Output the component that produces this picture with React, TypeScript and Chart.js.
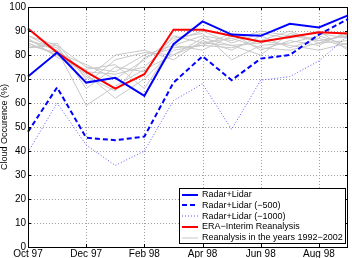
import React, { useEffect, useRef } from "react";
import { Chart, registerables } from "chart.js";

Chart.register(...registerables);

const months = ["Oct 97", "Nov 97", "Dec 97", "Jan 98", "Feb 98", "Mar 98", "Apr 98", "May 98", "Jun 98", "Jul 98", "Aug 98", "Sep 98"];
const yTicks = [0, 10, 20, 30, 40, 50, 60, 70, 80, 90, 100];

const radarLidar = [71, 81, 68.5, 70.5, 63, 84.5, 94, 88.5, 88, 93, 91.5, 96.5];
const radarLidar500 = [48, 66.5, 45.5, 44.5, 46, 68.5, 79.5, 69.5, 78.5, 80, 88.5, 95];
const radarLidar1000 = [39.5, 60, 42.5, 34, 40, 61, 68, 49, 69.5, 71, 77.5, 88];
const eraInterim = [91, 81, 73, 66, 72, 90.5, 90.5, 88, 85.5, 87.5, 89.5, 89];

const reanalysisYears = [
  [88, 84, 75, 73, 80, 84, 88, 86, 90, 88, 86, 88],
  [86, 82, 59, 67, 74, 80, 87, 84, 85, 88, 89, 87],
  [85, 80, 72, 62, 70, 82, 84, 89, 82, 86, 84, 90],
  [83, 85, 70, 80, 82, 78, 86, 82, 88, 83, 87, 83],
  [87, 79, 74, 76, 66, 84, 82, 88, 86, 90, 85, 86],
  [84, 81, 76, 70, 78, 87, 89, 78, 84, 85, 88, 84],
  [86, 83, 68, 78, 81, 80, 85, 87, 83, 82, 85, 89],
  [85, 80, 73, 72, 75, 86, 90, 85, 89, 87, 90, 82],
  [88, 82, 71, 65, 79, 83, 84, 83, 86, 84, 82, 85],
  [83, 84, 66, 75, 73, 88, 85, 84, 80, 89, 86, 88],
];

const legendLabels = [
  "Radar+Lidar",
  "Radar+Lidar (\u2212500)",
  "Radar+Lidar (\u22121000)",
  "ERA\u2212Interim Reanalysis",
  "Reanalysis in the years 1992\u22122002",
];

const FONT = "'Liberation Sans', Arial, Helvetica, sans-serif";
const BLUE = "#0000ff";
const RED = "#ff0000";
const GRAY = "#c8c8c8";
const DOT_BLUE = "#5a5aff";

const legendStyles = [
  { color: BLUE, width: 2, dash: [] as number[] },
  { color: BLUE, width: 2, dash: [5, 3] },
  { color: DOT_BLUE, width: 1, dash: [1, 2] },
  { color: RED, width: 2, dash: [] as number[] },
  { color: GRAY, width: 1, dash: [] as number[] },
];

const gridPlugin = {
  id: "mgrid",
  beforeDatasetsDraw(chart: any) {
    const { ctx, chartArea: a, scales } = chart;
    const xs = scales.x;
    const ys = scales.y;
    ctx.save();
    ctx.strokeStyle = "#a0a0a0";
    ctx.lineWidth = 1;
    ctx.setLineDash([1, 2]);
    ctx.beginPath();
    for (let i = 2; i < months.length; i += 2) {
      const px = Math.round(xs.getPixelForValue(i)) + 0.5;
      ctx.moveTo(px, a.top);
      ctx.lineTo(px, a.bottom);
    }
    for (const v of yTicks) {
      if (v === 0 || v === 100) continue;
      const py = Math.round(ys.getPixelForValue(v)) + 0.5;
      ctx.moveTo(a.left, py);
      ctx.lineTo(a.right, py);
    }
    ctx.stroke();
    ctx.restore();
  },
};

const framePlugin = {
  id: "frame",
  afterDatasetsDraw(chart: any) {
    const { ctx, chartArea: a, scales } = chart;
    const xs = scales.x;
    const ys = scales.y;
    ctx.save();
    ctx.strokeStyle = "#000";
    ctx.lineWidth = 1;
    ctx.setLineDash([]);
    ctx.strokeRect(Math.round(a.left) + 0.5, Math.round(a.top) + 0.5, Math.round(a.right - a.left) - 1, Math.round(a.bottom - a.top));
    ctx.beginPath();
    for (let i = 0; i < months.length; i += 2) {
      const px = Math.round(xs.getPixelForValue(i)) + 0.5;
      ctx.moveTo(px, a.bottom);
      ctx.lineTo(px, a.bottom - 3);
      ctx.moveTo(px, a.top);
      ctx.lineTo(px, a.top + 3);
    }
    for (const v of yTicks) {
      const py = Math.round(ys.getPixelForValue(v)) + 0.5;
      ctx.moveTo(a.left, py);
      ctx.lineTo(a.left + 3, py);
      ctx.moveTo(a.right, py);
      ctx.lineTo(a.right - 3, py);
    }
    ctx.stroke();

    // legend
    const lx = 179.5, ly = 188.5, lw = 166, lh = 55;
    ctx.fillStyle = "#fff";
    ctx.fillRect(lx, ly, lw, lh);
    ctx.strokeStyle = "#000";
    ctx.lineWidth = 1;
    ctx.strokeRect(lx, ly, lw, lh);
    ctx.font = `9px ${FONT}`;
    ctx.textBaseline = "middle";
    ctx.textAlign = "left";
    legendLabels.forEach((label, i) => {
      const y = 194.5 + i * 10.8;
      const st = legendStyles[i];
      ctx.save();
      ctx.strokeStyle = st.color;
      ctx.lineWidth = st.width;
      ctx.setLineDash(st.dash);
      ctx.beginPath();
      ctx.moveTo(182, Math.round(y));
      ctx.lineTo(198, Math.round(y));
      ctx.stroke();
      ctx.restore();
      ctx.fillStyle = "#000";
      ctx.fillText(label, 202, y);
    });
    ctx.restore();
  },
};

export default function App() {
  const ref = useRef<HTMLCanvasElement>(null);
  useEffect(() => {
    if (!ref.current) return;
    const datasets: any[] = [
      { label: legendLabels[0], data: radarLidar, borderColor: BLUE, borderWidth: 2 },
      { label: legendLabels[3], data: eraInterim, borderColor: RED, borderWidth: 2 },
      { label: legendLabels[1], data: radarLidar500, borderColor: BLUE, borderWidth: 2, borderDash: [5, 3] },
      { label: legendLabels[2], data: radarLidar1000, borderColor: DOT_BLUE, borderWidth: 1, borderDash: [1, 2] },
      ...reanalysisYears.map((d, i) => ({ label: `Reanalysis ${1992 + i}`, data: d, borderColor: GRAY, borderWidth: 1 })),
    ].map((d) => ({ ...d, pointRadius: 0, tension: 0, fill: false, borderCapStyle: "butt", borderJoinStyle: "miter" }));

    const chart = new Chart(ref.current, {
      type: "line",
      data: { labels: months, datasets },
      options: {
        animation: false,
        responsive: false,
        maintainAspectRatio: false,
        layout: { padding: { top: 5, right: 4, left: 0, bottom: 0 } },
        plugins: { legend: { display: false }, tooltip: { enabled: false } },
        scales: {
          x: {
            type: "category",
            offset: false,
            afterFit: (s: any) => { s.height = 11; },
            grid: { display: false, drawTicks: false },
            border: { display: false },
            ticks: {
              autoSkip: false,
              maxRotation: 0,
              padding: 1,
              color: "#000",
              font: { family: FONT, size: 10, lineHeight: 1.2 },
              callback: (_v: any, i: number) => (i % 2 === 0 ? months[i] : ""),
            },
          },
          y: {
            min: 0,
            max: 100,
            afterFit: (s: any) => { s.width = 28; },
            afterBuildTicks: (s: any) => { s.ticks = yTicks.map((v) => ({ value: v })); },
            grid: { display: false, drawTicks: false },
            border: { display: false },
            ticks: {
              padding: 2,
              color: "#000",
              font: { family: FONT, size: 10, lineHeight: 1 },
            },
            title: {
              display: true,
              text: "Cloud Occurence (%)",
              color: "#000",
              padding: 0,
              font: { family: FONT, size: 9, lineHeight: 1 },
            },
          },
        },
      },
      plugins: [gridPlugin, framePlugin],
    });
    return () => chart.destroy();
  }, []);

  return (
    <div style={{ position: "fixed", left: 0, top: 0, width: 352, height: 258, background: "#fff" }}>
      <canvas ref={ref} width={352} height={258} style={{ display: "block" }} />
    </div>
  );
}
